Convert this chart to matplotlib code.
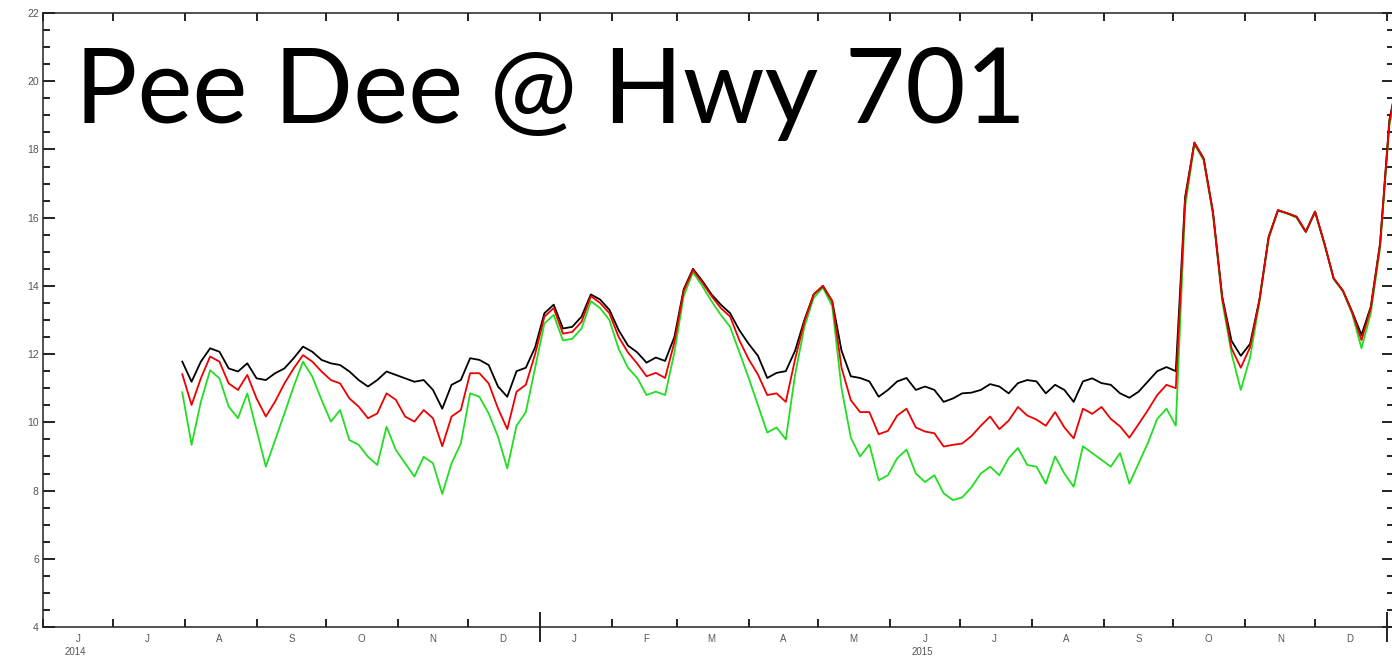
import matplotlib
matplotlib.use("Agg")
import matplotlib.pyplot as plt
import matplotlib.dates as mdates
from matplotlib.ticker import MultipleLocator, NullFormatter
import pandas as pd

# daily series sampled every 4 days, starting 31 Jul 2014
START = "2014-07-31"
STEP = "4D"

upper = [11.78, 11.19, 11.78, 12.17, 12.07, 11.58, 11.49, 11.73, 11.29, 11.24,
         11.44, 11.58, 11.88, 12.22, 12.07, 11.83, 11.73, 11.68, 11.49, 11.24,
         11.05, 11.24, 11.49, 11.39, 11.29, 11.19, 11.24, 10.95, 10.40, 11.10,
         11.24, 11.88, 11.83, 11.68, 11.05, 10.75, 11.50, 11.60, 12.20, 13.20,
         13.45, 12.75, 12.80, 13.10, 13.75, 13.60, 13.30, 12.70, 12.25, 12.05,
         11.75, 11.90, 11.80, 12.50, 13.90, 14.50, 14.15, 13.75, 13.45, 13.20,
         12.70, 12.30, 11.95, 11.30, 11.45, 11.50, 12.10, 13.00, 13.75, 14.00,
         13.55, 12.10, 11.35, 11.30, 11.20, 10.75, 10.95, 11.20, 11.30, 10.95,
         11.05, 10.95, 10.60, 10.70, 10.85, 10.87, 10.95, 11.12, 11.05, 10.85,
         11.15, 11.24, 11.20, 10.85, 11.10, 10.95, 10.60, 11.20, 11.29, 11.15,
         11.10, 10.85, 10.72, 10.90, 11.20, 11.50, 11.62, 11.50, 16.60, 18.20,
         17.74, 16.18, 13.68, 12.39, 11.95, 12.30, 13.59, 15.44, 16.22, 16.13,
         16.03, 15.59, 16.18, 15.25, 14.22, 13.86, 13.24, 12.56, 13.39, 15.25,
         18.86, 20.20]

middle = [11.41, 10.51, 11.29, 11.93, 11.78, 11.14, 10.95, 11.39, 10.70, 10.17,
          10.61, 11.14, 11.58, 11.97, 11.78, 11.49, 11.24, 11.14, 10.70, 10.46,
          10.12, 10.26, 10.85, 10.66, 10.17, 10.02, 10.36, 10.12, 9.30, 10.17,
          10.36, 11.44, 11.44, 11.14, 10.41, 9.80, 10.90, 11.10, 12.00, 13.10,
          13.35, 12.60, 12.65, 12.95, 13.70, 13.50, 13.20, 12.50, 12.05, 11.72,
          11.35, 11.45, 11.30, 12.35, 13.85, 14.47, 14.10, 13.70, 13.35, 13.10,
          12.40, 11.85, 11.40, 10.80, 10.85, 10.60, 11.85, 12.95, 13.75, 14.00,
          13.55, 11.60, 10.65, 10.30, 10.30, 9.65, 9.75, 10.20, 10.40, 9.85,
          9.73, 9.68, 9.29, 9.34, 9.38, 9.60, 9.90, 10.17, 9.80, 10.05,
          10.45, 10.20, 10.08, 9.90, 10.30, 9.85, 9.53, 10.40, 10.25, 10.45,
          10.10, 9.88, 9.55, 9.95, 10.36, 10.80, 11.10, 11.00, 16.50, 18.20,
          17.72, 16.15, 13.65, 12.17, 11.60, 12.20, 13.57, 15.42, 16.22, 16.13,
          16.03, 15.59, 16.18, 15.25, 14.22, 13.86, 13.22, 12.41, 13.35, 15.22,
          18.80, 20.20]

lower = [10.88, 9.34, 10.60, 11.53, 11.29, 10.46, 10.12, 10.85, 9.78, 8.70,
         9.48, 10.26, 11.05, 11.78, 11.34, 10.66, 10.02, 10.36, 9.48, 9.34,
         8.99, 8.75, 9.87, 9.19, 8.80, 8.41, 8.99, 8.80, 7.90, 8.80,
         9.38, 10.85, 10.75, 10.26, 9.58, 8.65, 9.90, 10.30, 11.60, 12.90,
         13.15, 12.40, 12.45, 12.75, 13.55, 13.35, 13.00, 12.15, 11.60, 11.30,
         10.80, 10.90, 10.80, 12.05, 13.70, 14.40, 14.00, 13.55, 13.15, 12.80,
         12.05, 11.30, 10.50, 9.70, 9.85, 9.50, 11.40, 12.80, 13.65, 13.95,
         13.40, 11.00, 9.55, 9.00, 9.35, 8.30, 8.45, 8.95, 9.20, 8.50,
         8.25, 8.45, 7.92, 7.72, 7.80, 8.10, 8.50, 8.70, 8.45, 8.95,
         9.25, 8.75, 8.70, 8.20, 9.00, 8.50, 8.11, 9.30, 9.10, 8.90,
         8.70, 9.10, 8.20, 8.80, 9.40, 10.10, 10.40, 9.90, 16.30, 18.15,
         17.68, 16.10, 13.55, 12.02, 10.95, 11.90, 13.50, 15.38, 16.20, 16.12,
         16.00, 15.57, 16.16, 15.22, 14.20, 13.84, 13.18, 12.17, 13.20, 15.10,
         18.70, 20.10]

year_labels = ["2014", "2015"]
title = "Pee Dee @ Hwy 701"

dates = pd.date_range(START, periods=len(upper), freq=STEP)
months = pd.date_range("2014-06-01", "2015-12-01", freq="MS")

W, H = 1392, 660
fig = plt.figure(figsize=(W / 100, H / 100), dpi=100)
ax = fig.add_axes([43 / W, 33 / H, (1394 - 43) / W, 614 / H])

ax.plot(dates, lower, color="#22dd22", lw=1.3)
ax.plot(dates, upper, color="black", lw=1.3)
ax.plot(dates, middle, color="#ee0000", lw=1.3)

ax.set_xlim(pd.Timestamp("2014-06-01"), pd.Timestamp("2016-01-04"))
ax.set_ylim(4, 22)

for s in ax.spines.values():
    s.set_linewidth(1.1)
    s.set_color("#222222")

# y axis: labels every 2, minor ticks every 0.5, ticks on both sides
ax.yaxis.set_major_locator(MultipleLocator(2))
ax.yaxis.set_minor_locator(MultipleLocator(0.5))
ax.tick_params(axis="y", which="both", direction="in", left=True, right=True,
               width=1.4, color="#222222", labelcolor="#555555", labelsize=7.5, pad=3)
ax.tick_params(axis="y", which="major", length=8.6)
ax.tick_params(axis="y", which="minor", length=5)

# x axis: month ticks inside, year boundary crossing the axis
ax.xaxis.remove_overlapping_locs = False
ax.xaxis.set_major_locator(mdates.YearLocator())
ax.xaxis.set_minor_locator(mdates.MonthLocator())
ax.xaxis.set_major_formatter(NullFormatter())
ax.xaxis.set_minor_formatter(NullFormatter())
ax.tick_params(axis="x", which="minor", direction="in", length=5.6, width=1.4,
               top=True, bottom=True, color="#222222")
ax.tick_params(axis="x", which="major", direction="inout", length=21.6, width=1.4,
               top=False, bottom=True, color="#222222")

for lab in ax.get_yticklabels():
    lab.set_family("Liberation Sans")

xt = ax.get_xaxis_transform()
for m in months:
    ax.text(m + pd.Timedelta(days=15), -0.011, m.strftime("%b")[0], transform=xt,
            ha="center", va="top", fontsize=7, color="#555555", family="Liberation Sans")
for yr in year_labels:
    ax.text(pd.Timestamp(f"{yr}-06-15"), -0.033, yr, transform=xt,
            ha="center", va="top", fontsize=7, color="#555555", family="Liberation Sans")

fig.text(75 / W, 1 - 123 / H, title, fontsize=75, family="Lato", fontweight="normal",
         va="baseline", color="black")

fig.savefig("out.png", dpi=100)
